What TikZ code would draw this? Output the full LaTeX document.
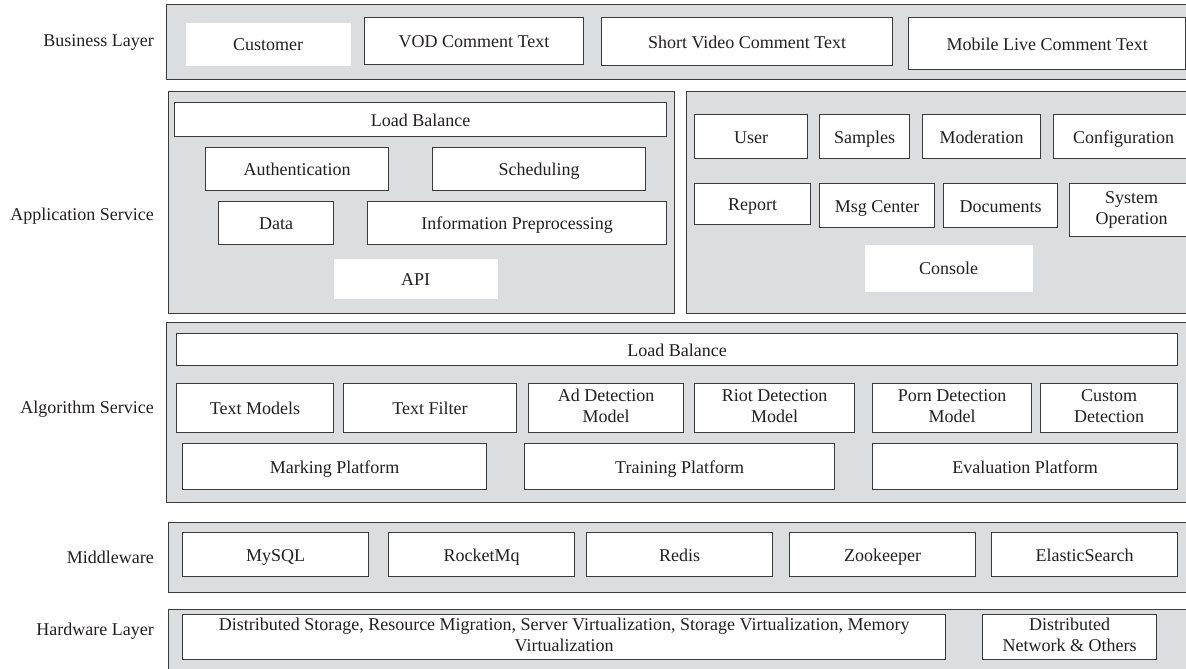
\documentclass[tikz,border=0pt]{standalone}
\usepackage{fontspec}
\setmainfont{Liberation Serif}
\definecolor{layerGray}{HTML}{DCDDDE}
\definecolor{lineGray}{HTML}{3A3A3A}
\definecolor{textGray}{HTML}{231F20}
%% strut that keeps box texts at one height
\newcommand{\boxstrut}{\rule[-4pt]{0pt}{21pt}}
\begin{document}
\begin{tikzpicture}
[x=1pt,y=-1pt,%
  layerDecorate/.style={draw=lineGray,line width=1.4pt,fill=layerGray,
    anchor=north west,inner sep=0pt},
  boxDecorate/.style={draw=lineGray,line width=1.2pt,fill=white,
    anchor=north west,inner sep=0pt,align=center,text=textGray,
    font=\rmfamily\fontsize{18}{21}\selectfont,
    execute at begin node=\boxstrut,execute at end node=\boxstrut},
  plainDecorate/.style={boxDecorate,draw=none},
  labelDecorate/.style={anchor=east,inner sep=0pt,text=textGray,
    font=\rmfamily\fontsize{18}{21}\selectfont}]
\clip (0,0) rectangle (1186,669);
\fill[white] (0,0) rectangle (1186,669);
%%
%%%%%%%%%%%%%%%%%%%%%%%%%%%%%%%%%%%%%%%%%%%%%%%%%%%%%%%%%%%%%%%%%%%%%%%%%%%
%%
%% layers: grey bands (they run on past the right edge)
\foreach \nodename/\x/\y/\w/\h in {
  business/166/4/1040/75,
  appleft/168/91/506/222, appright/686/91/520/222,
  algorithm/166/322/1040/180,
  middleware/168/522/1038/70,
  hardware/168/609/1038/80}
{
  \node (\nodename) at (\x,\y) [layerDecorate,minimum width=\w pt,minimum height=\h pt] {};
}
%% layer names
\foreach \nodename/\y/\txt in {
  lbusiness/42/Business Layer, lapp/216/Application Service,
  lalgorithm/409/Algorithm Service, lmiddleware/557/Middleware,
  lhardware/631/Hardware Layer}
{
  \node (\nodename) at (154,\y) [labelDecorate] {\txt};
}
%%
%%%%%%%%%%%%%%%%%%%%%%%%%%%%%%%%%%%%%%%%%%%%%%%%%%%%%%%%%%%%%%%%%%%%%%%%%%%
%%
%% business layer
\node (customer) at (185,22) [plainDecorate,minimum width=165pt,minimum height=43pt] {Customer};
\foreach \nodename/\x/\y/\w/\h/\txt in {
  vod/364/17/219/47/VOD Comment Text,
  shortvideo/601/17/291/48/Short Video Comment Text,
  mobilelive/908/17/277/52/Mobile Live Comment Text}
{
  \node (\nodename) at (\x,\y) [boxDecorate,minimum width=\w pt,minimum height=\h pt] {\txt};
}
%%
%%%%%%%%%%%%%%%%%%%%%%%%%%%%%%%%%%%%%%%%%%%%%%%%%%%%%%%%%%%%%%%%%%%%%%%%%%%
%%
%% application service, left part
\foreach \nodename/\x/\y/\w/\h/\txt in {
  lbapp/174/102/492/34/Load Balance,
  auth/205/147/183/43/Authentication, sched/432/147/213/43/Scheduling,
  data/218/201/115/43/Data, preproc/367/201/299/43/Information Preprocessing}
{
  \node (\nodename) at (\x,\y) [boxDecorate,minimum width=\w pt,minimum height=\h pt] {\txt};
}
\node (api) at (333,258) [plainDecorate,minimum width=164pt,minimum height=40pt] {API};
%% application service, right part
\foreach \nodename/\x/\y/\w/\h/\txt in {
  user/694/114/113/44/User, samples/819/114/90/44/Samples,
  moderation/922/114/118/44/Moderation, config/1053/114/140/44/Configuration,
  report/694/183/116/41/Report, msgcenter/819/183/115/44/Msg Center,
  documents/943/183/114/44/Documents,
  sysop/1069/183/124/53/{System\\Operation}}
{
  \node (\nodename) at (\x,\y) [boxDecorate,minimum width=\w pt,minimum height=\h pt] {\txt};
}
\node (console) at (864,244) [plainDecorate,minimum width=168pt,minimum height=47pt] {Console};
%%
%%%%%%%%%%%%%%%%%%%%%%%%%%%%%%%%%%%%%%%%%%%%%%%%%%%%%%%%%%%%%%%%%%%%%%%%%%%
%%
%% algorithm service
\foreach \nodename/\x/\y/\w/\h/\txt in {
  lbalgo/176/333/1001/32/Load Balance,
  textmodels/176/383/157/49/Text Models, textfilter/343/383/173/49/Text Filter,
  addetect/528/383/155/49/{Ad Detection\\Model},
  riotdetect/694/383/160/49/{Riot Detection\\Model},
  porndetect/872/383/159/49/{Porn Detection\\Model},
  customdetect/1040/383/137/49/{Custom\\Detection},
  marking/182/443/304/46/Marking Platform,
  training/524/443/310/46/Training Platform,
  evaluation/872/443/305/46/Evaluation Platform}
{
  \node (\nodename) at (\x,\y) [boxDecorate,minimum width=\w pt,minimum height=\h pt] {\txt};
}
%%
%%%%%%%%%%%%%%%%%%%%%%%%%%%%%%%%%%%%%%%%%%%%%%%%%%%%%%%%%%%%%%%%%%%%%%%%%%%
%%
%% middleware
\foreach \nodename/\x/\txt in {
  mysql/182/MySQL, rocketmq/388/RocketMq, redis/586/Redis,
  zookeeper/789/Zookeeper, elastic/991/ElasticSearch}
{
  \node (\nodename) at (\x,532) [boxDecorate,minimum width=186pt,minimum height=44pt] {\txt};
}
%%
%%%%%%%%%%%%%%%%%%%%%%%%%%%%%%%%%%%%%%%%%%%%%%%%%%%%%%%%%%%%%%%%%%%%%%%%%%%
%%
%% hardware layer
\node (virtual) at (182,614) [boxDecorate,minimum width=763pt,minimum height=45pt]
  {Distributed Storage, Resource Migration, Server Virtualization, Storage Virtualization, Memory\\Virtualization};
\node (network) at (982,614) [boxDecorate,minimum width=174pt,minimum height=45pt]
  {Distributed\\Network \& Others};
\end{tikzpicture}
\end{document}
